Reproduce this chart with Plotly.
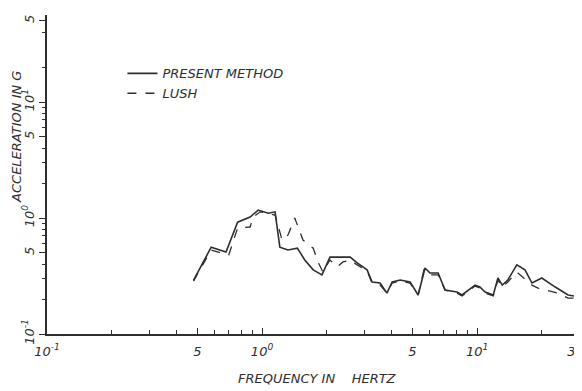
import plotly.graph_objects as go

# Frequency (Hz) and acceleration (g)
freq_present = [0.48, 0.58, 0.68, 0.77, 0.88, 0.96, 1.07, 1.15, 1.21, 1.32, 1.46, 1.58,
                1.73, 1.90, 2.07, 2.36, 2.57, 2.77, 3.08, 3.25, 3.54, 3.81, 4.03, 4.39,
                4.88, 5.32, 5.73, 6.04, 6.59, 7.10, 8.07, 8.51, 9.79, 10.3, 10.9, 11.9,
                12.5, 13.1, 13.9, 15.3, 16.7, 18.0, 20.0, 23.1, 26.5, 30.0]
acc_present = [0.29, 0.56, 0.51, 0.92, 1.02, 1.17, 1.10, 1.13, 0.56, 0.53, 0.55, 0.435,
               0.357, 0.323, 0.46, 0.46, 0.46, 0.41, 0.357, 0.281, 0.275, 0.225, 0.281, 0.292,
               0.281, 0.217, 0.371, 0.336, 0.336, 0.239, 0.230, 0.217, 0.264, 0.254, 0.230, 0.217,
               0.304, 0.264, 0.292, 0.394, 0.357, 0.275, 0.304, 0.254, 0.217, 0.209]

freq_lush = [0.48, 0.58, 0.70, 0.77, 0.88, 0.91, 0.98, 1.07, 1.15, 1.24, 1.32, 1.42,
             1.55, 1.73, 1.82, 1.92, 2.07, 2.23, 2.38, 2.57, 2.77, 3.08, 3.25, 3.54,
             3.81, 4.03, 4.39, 4.88, 5.32, 5.66, 6.04, 6.59, 7.10, 8.07, 8.51, 9.79,
             10.3, 10.9, 11.9, 12.5, 13.1, 13.9, 15.3, 18.0, 19.2, 23.8, 26.5, 30.0]
acc_lush = [0.286, 0.53, 0.48, 0.82, 0.836, 1.02, 1.13, 1.10, 1.06, 0.645, 0.713, 1.00,
            0.645, 0.55, 0.418, 0.342, 0.435, 0.379, 0.418, 0.435, 0.394, 0.349, 0.275, 0.264,
            0.225, 0.275, 0.286, 0.275, 0.217, 0.357, 0.323, 0.323, 0.239, 0.225, 0.213, 0.259,
            0.249, 0.225, 0.213, 0.292, 0.254, 0.281, 0.342, 0.264, 0.249, 0.225, 0.204, 0.204]

x_tickvals = [0.1, 0.5, 1, 5, 10, 30]
# the last label sits at the window edge; trailing no-break spaces keep the "3" in view
x_ticktext = ["10<sup>-1</sup>", "5", "10<sup>0</sup>", "5", "10<sup>1</sup>",
              "3\u00a0\u00a0\u00a0\u00a0"]
y_tickvals = [0.1, 0.5, 1, 5, 10, 50]
y_ticktext = ["10<sup>-1</sup>", "5", "10<sup>0</sup>", "5", "10<sup>1</sup>", "5"]
minor_vals = [0.2, 0.3, 0.4, 0.6, 0.7, 0.8, 0.9, 2, 3, 4, 6, 7, 8, 9, 20, 40]

INK = "#2e2e2e"
FONT = dict(family="DejaVu Sans", size=13, color=INK, style="italic")

fig = go.Figure()
fig.add_trace(go.Scatter(x=freq_present, y=acc_present, mode="lines",
                         name="PRESENT METHOD",
                         line=dict(color=INK, width=1.6)))
fig.add_trace(go.Scatter(x=freq_lush, y=acc_lush, mode="lines",
                         name="LUSH",
                         line=dict(color=INK, width=1.3, dash="dash")))

axis_common = dict(type="log", showgrid=False, zeroline=False, showline=True,
                   linecolor=INK, linewidth=1.8, tickcolor=INK, ticklen=6,
                   tickwidth=1.3, tickmode="array", tickfont=FONT, mirror=False,
                   automargin=False, ticklabeloverflow="allow")

fig.update_xaxes(range=[-1, 1.488], tickvals=x_tickvals, ticktext=x_ticktext,
                 ticks="inside", ticklabelstandoff=4,
                 minor=dict(tickmode="array", tickvals=minor_vals, ticks="inside",
                            ticklen=4, tickcolor=INK, tickwidth=1),
                 **axis_common)
fig.update_yaxes(range=[-1, 1.75], tickvals=y_tickvals, ticktext=y_ticktext,
                 ticks="outside", tickangle=-90,
                 minor=dict(tickmode="array", tickvals=minor_vals, ticks="outside",
                            ticklen=3, tickcolor=INK, tickwidth=1),
                 **axis_common)

fig.add_annotation(text="ACCELERATION IN G", textangle=-90, xref="paper", yref="paper",
                   x=-0.056, y=0.618, xanchor="center", yanchor="middle",
                   showarrow=False, font=dict(FONT, size=13))
fig.add_annotation(text="FREQUENCY IN    HERTZ", xref="paper", yref="paper",
                   x=0.506, y=-0.141, xanchor="center", yanchor="middle",
                   showarrow=False, font=dict(FONT, size=13))

# The page body adds an 8 px offset, so the figure is sized to fit the window.
fig.update_layout(
    width=574, height=383,
    margin=dict(l=39, r=0, t=7, b=57, autoexpand=False),
    paper_bgcolor="white", plot_bgcolor="white",
    showlegend=True,
    legend=dict(x=0.141, y=0.864, xanchor="left", yanchor="top",
                bgcolor="rgba(0,0,0,0)", font=dict(FONT, size=13),
                itemwidth=30, tracegroupgap=0),
)

fig.write_html("out.html")
